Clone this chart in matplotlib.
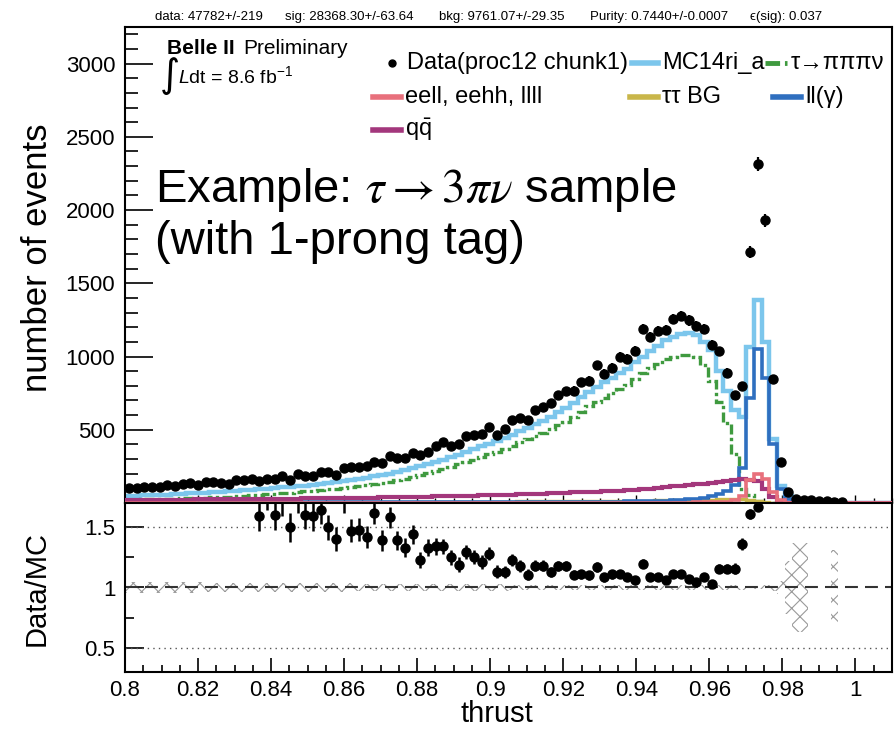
import numpy as np
import matplotlib.pyplot as plt
from matplotlib.lines import Line2D
from matplotlib.ticker import MultipleLocator, FuncFormatter

plt.rcParams['font.family'] = ['Liberation Sans', 'DejaVu Sans']
plt.rcParams['mathtext.fontset'] = 'custom'
plt.rcParams['mathtext.rm'] = 'Liberation Sans'
plt.rcParams['mathtext.it'] = 'Liberation Sans:italic'
plt.rcParams['hatch.linewidth'] = 0.8

# binning of the thrust histograms
x_lo, x_hi, n_bins = 0.8, 1.01, 100

# data counts per bin
data = [100, 100, 107, 111, 107, 124, 118, 127, 134, 122,
        141, 141, 136, 129, 156, 156, 163, 152, 163, 161,
        186, 156, 195, 186, 182, 213, 213, 190, 236, 243,
        243, 254, 281, 274, 322, 304, 304, 340, 331, 345,
        390, 417, 390, 406, 458, 467, 471, 519, 467, 508,
        566, 578, 566, 634, 657, 682, 739, 764, 768, 823,
        836, 940, 884, 925, 998, 984, 1038, 1190, 1133, 1172,
        1183, 1256, 1278, 1247, 1210, 1190, 1081, 1036, 889, 734,
        798, 1712, 2317, 1931, 848, 277, 73, 27, 22, 18,
        15, 12, 10, 7, 0, 0, 0, 0, 0, 0]

# MC14ri_a total
mc_total = [48, 50, 52, 54, 56, 58, 61, 63, 66, 68,
            71, 74, 77, 80, 83, 86, 89, 93, 96, 100,
            106, 110, 114, 118, 122, 128, 136, 142, 148, 158,
            166, 174, 182, 190, 200, 212, 224, 236, 250, 264,
            280, 296, 312, 330, 348, 368, 386, 404, 422, 444,
            466, 490, 512, 536, 562, 590, 618, 648, 684, 722,
            760, 795, 825, 855, 885, 915, 960, 1000, 1040, 1075,
            1110, 1135, 1155, 1160, 1150, 1100, 1045, 900, 765, 635,
            590, 1063, 1387, 1097, 435, 118, 50, 15, 8, 4,
            0, 0, 3, 0, 0, 0, 0, 0, 0, 0]

# signal tau -> pi pi pi nu
sig_3pi = [22, 23, 24, 25, 26, 28, 30, 31, 33, 35,
           37, 39, 41, 44, 47, 50, 53, 56, 59, 63,
           67, 71, 75, 79, 83, 88, 94, 99, 104, 111,
           116, 122, 129, 136, 145, 155, 166, 177, 190, 203,
           218, 232, 247, 263, 279, 297, 314, 332, 350, 371,
           392, 414, 434, 456, 480, 504, 530, 556, 588, 624,
           660, 693, 720, 748, 778, 808, 848, 885, 922, 952,
           980, 1000, 1012, 1012, 995, 945, 835, 690, 545, 335,
           95, 55, 12, 3, 0, 0, 0, 0, 0, 0,
           0, 0, 0, 0, 0, 0, 0, 0, 0, 0]

eell = [0] * 70 + [2, 2, 3, 3, 4, 5, 6, 8, 10, 20,
                   45, 160, 195, 165, 75, 20, 3, 0, 0, 0,
                   0, 0, 0, 0, 0, 0, 0, 0, 0, 0]

tautau_bg = [2, 2, 2, 2, 3, 3, 3, 3, 3, 3,
             3, 3, 4, 4, 4, 4, 4, 4, 4, 4,
             4, 5, 5, 5, 5, 5, 5, 5, 5, 5,
             5, 6, 6, 6, 6, 6, 7, 7, 7, 7,
             8, 8, 8, 8, 9, 9, 9, 10, 10, 10,
             10, 11, 11, 11, 11, 12, 12, 12, 12, 12,
             13, 13, 14, 14, 15, 15, 16, 16, 17, 18,
             18, 19, 20, 20, 21, 22, 23, 24, 24, 25,
             25, 20, 15, 8, 3, 1, 0, 0, 0, 0,
             0, 0, 0, 0, 0, 0, 0, 0, 0, 0]

llgamma = [3, 3, 3, 3, 3, 3, 3, 3, 3, 3,
           3, 3, 3, 3, 3, 3, 3, 3, 3, 3,
           4, 4, 4, 4, 4, 4, 4, 4, 4, 4,
           4, 4, 4, 4, 4, 5, 5, 5, 5, 5,
           5, 5, 5, 5, 5, 5, 5, 5, 5, 5,
           6, 6, 6, 7, 7, 7, 8, 8, 8, 9,
           9, 9, 10, 10, 10, 11, 11, 11, 12, 12,
           15, 18, 22, 26, 30, 35, 45, 60, 85, 125,
           240, 720, 1050, 855, 400, 95, 25, 8, 3, 1,
           0, 0, 0, 0, 0, 0, 0, 0, 0, 0]

qqbar = [20, 20, 21, 21, 22, 22, 22, 23, 23, 24,
         24, 25, 25, 26, 26, 27, 27, 28, 28, 29,
         29, 30, 30, 31, 31, 32, 32, 33, 34, 34,
         35, 36, 37, 38, 39, 40, 41, 42, 43, 44,
         45, 46, 47, 48, 49, 51, 52, 53, 55, 56,
         58, 59, 61, 62, 64, 66, 68, 70, 72, 74,
         76, 78, 80, 82, 84, 87, 90, 94, 98, 103,
         108, 113, 118, 123, 128, 133, 138, 143, 150, 157,
         163, 160, 150, 95, 40, 10, 0, 0, 0, 0,
         0, 0, 0, 0, 0, 0, 0, 0, 0, 0]

# Data/MC ratio per bin (nan: no entry)
nan = float('nan')
ratio = [2.08, 2.00, 2.06, 2.05, 1.91, 2.14, 1.93, 2.02, 2.03, 1.90,
         1.99, 1.91, 1.92, 1.90, 1.98, 1.95, 1.92, 1.595, 1.78, 1.60,
         1.72, 1.50, 1.74, 1.60, 1.59, 1.64, 1.50, 1.40, 1.73, 1.47,
         1.48, 1.42, 1.62, 1.39, 1.58, 1.39, 1.33, 1.44, 1.23, 1.33,
         1.34, 1.34, 1.25, 1.19, 1.295, 1.25, 1.21, 1.28, 1.13, 1.13,
         1.226, 1.18, 1.107, 1.18, 1.18, 1.13, 1.18, 1.18, 1.107, 1.11,
         1.10, 1.17, 1.085, 1.11, 1.11, 1.088, 1.058, 1.198, 1.088, 1.088,
         1.06, 1.11, 1.11, 1.074, 1.047, 1.088, 1.03, 1.157, 1.157, 1.157,
         1.36, 1.61, 1.67, 1.76, 1.95, 2.35, nan, nan, nan, nan,
         nan, nan, nan, nan, nan, nan, nan, nan, nan, nan]

# relative MC stat. uncertainty (hatched band in the ratio)
mc_relerr = [0.045] * 10 + [0.04] * 10 + [0.035] * 10 + [0.03] * 10 + \
            [0.025] * 10 + [0.02] * 10 + [0.018] * 20 + \
            [0.02, 0.015, 0.015, 0.02, 0.03, 0.05, 0.22, 0.37, 0.37, nan,
             nan, nan, 0.31, nan, nan, nan, nan, nan, nan, nan]

summary = ['data: 47782+/-219', 'sig: 28368.30+/-63.64', 'bkg: 9761.07+/-29.35',
           'Purity: 0.7440+/-0.0007', '\u03f5(sig): 0.037']

c_mc = '#7cc6ec'
c_sig = '#3f9a3f'
c_eell = '#e8707c'
c_tt = '#c9b64a'
c_ll = '#2f6fbf'
c_qq = '#a3377c'

W, H = 894, 731
def fx(x):
    return x / W
def fy(y):
    return 1 - y / H

edges = np.linspace(x_lo, x_hi, n_bins + 1)
centers = 0.5 * (edges[1:] + edges[:-1])
bw = edges[1] - edges[0]

fig = plt.figure(figsize=(8.94, 7.31), dpi=100)
ax = fig.add_axes([fx(125), fy(503), 767 / W, 476 / H])
axr = fig.add_axes([fx(125), fy(672), 767 / W, 169 / H])

# ---- main panel
ax.stairs(mc_total, edges, baseline=None, color=c_mc, lw=3.2, zorder=2)
ax.stairs(sig_3pi, edges, baseline=None, color=c_sig, lw=2.4, ls=(0, (3, 1, 1, 1)), zorder=3)
ax.stairs(tautau_bg, edges, baseline=None, color=c_tt, lw=2.4, zorder=3)
ax.stairs(llgamma, edges, baseline=None, color=c_ll, lw=2.6, zorder=3)
ax.stairs(qqbar, edges, baseline=None, color=c_qq, lw=3, zorder=4)
ax.stairs(eell, edges, baseline=None, color=c_eell, lw=2.6, zorder=4)

d = np.array(data, dtype=float)
has = d > 0
ax.errorbar(centers[has], d[has], yerr=np.sqrt(d[has]), fmt='o', ms=6.5, color='k',
            elinewidth=1.6, capsize=0, zorder=6)

ax.set_xlim(x_lo, x_hi)
ax.set_ylim(0, 3250)
ax.yaxis.set_major_locator(MultipleLocator(500))
ax.yaxis.set_minor_locator(MultipleLocator(100))
ax.xaxis.set_major_locator(MultipleLocator(0.02))
ax.xaxis.set_minor_locator(MultipleLocator(0.005))
ax.yaxis.set_major_formatter(FuncFormatter(lambda v, p: '' if abs(v) < 1e-9 else f'{v:g}'))
ax.tick_params(axis='y', which='major', direction='in', length=20, width=1.2, labelsize=16, pad=7)
ax.tick_params(axis='y', which='minor', direction='in', length=9.5, width=1.2)
ax.tick_params(axis='x', which='major', direction='in', length=6, width=1.0, labelbottom=False)
ax.tick_params(axis='x', which='minor', direction='in', length=3.5, width=1.0)
for s in ax.spines.values():
    s.set_linewidth(1.5)

# ---- ratio panel
r = np.array(ratio, dtype=float)
rerr = r / np.sqrt(np.where(has, d, np.nan))
band = np.array(mc_relerr, dtype=float)
okb = ~np.isnan(band)
axr.bar(centers[okb], 2 * band[okb], bottom=1 - band[okb], width=bw, facecolor='none',
        edgecolor='#9a9a9a', hatch='xx', linewidth=0, zorder=1)
axr.axhline(1.0, color='#333333', lw=1.5, dashes=(6.2, 3.4), zorder=2)
axr.axhline(1.5, color='#555555', lw=1.0, ls=(0, (1, 3)), zorder=2)
axr.axhline(0.5, color='#555555', lw=1.0, ls=(0, (1, 3)), zorder=2)
okr = ~np.isnan(r)
axr.errorbar(centers[okr], r[okr], yerr=rerr[okr], fmt='none', ecolor='k',
             elinewidth=1.8, capsize=0, zorder=4)
inside = okr & (r < 1.7)
axr.plot(centers[inside], r[inside], 'o', color='k', ms=6.5, zorder=5)

axr.set_xlim(x_lo, x_hi)
axr.set_ylim(0.3, 1.7)
axr.yaxis.set_major_locator(MultipleLocator(0.5))
axr.yaxis.set_minor_locator(MultipleLocator(0.25))
axr.xaxis.set_major_locator(MultipleLocator(0.02))
axr.xaxis.set_minor_locator(MultipleLocator(0.005))
fmt = FuncFormatter(lambda v, p: f'{v:g}')
axr.xaxis.set_major_formatter(fmt)
axr.yaxis.set_major_formatter(fmt)
axr.tick_params(axis='y', which='major', direction='in', length=13.5, width=1.2, labelsize=16, pad=7)
axr.tick_params(axis='y', which='minor', direction='in', length=6.5, width=1.2)
axr.tick_params(axis='x', which='major', direction='in', length=10, width=1.2, labelsize=16, pad=6)
axr.tick_params(axis='x', which='minor', direction='in', length=5, width=1.2)
for s in axr.spines.values():
    s.set_linewidth(1.5)

# ---- axis titles
fig.text(fx(38), fy(258), 'number of events', rotation=90, ha='center', va='center', fontsize=25)
fig.text(fx(37), fy(588), 'Data/MC', rotation=90, ha='center', va='center', fontsize=21)
fig.text(fx(497), fy(722), 'thrust', ha='center', va='baseline', fontsize=21)

# ---- summary line on top
for txt, x0 in zip(summary, [155, 285, 439, 590, 750]):
    fig.text(fx(x0), fy(17), txt, fontsize=9.5, va='center')

# ---- Belle II label
fig.text(fx(167), fy(48), 'Belle II', fontsize=15, fontweight='bold', va='center')
fig.text(fx(243), fy(48), 'Preliminary', fontsize=15, va='center')
fig.text(fx(160), fy(76), '\u222b', fontsize=28, va='center', family='DejaVu Sans')
fig.text(fx(178), fy(76), '$\\mathit{L}$dt = 8.6 fb$^{\\mathregular{-1}}$', fontsize=14, va='center')

# ---- legend
def key(x0, y0, label, length=28, **kw):
    fig.add_artist(Line2D([fx(x0), fx(x0 + length)], [fy(y0), fy(y0)], transform=fig.transFigure, **kw))
    fig.text(fx(x0 + length + 4), fy(y0), label, fontsize=17, va='center')

fig.add_artist(Line2D([fx(392)], [fy(63)], marker='o', ms=5, color='k', transform=fig.transFigure))
fig.text(fx(407), fy(63), 'Data(proc12 chunk1)', fontsize=17, va='center')
key(632, 63, 'MC14ri_a', length=26, color=c_mc, lw=4)
key(765, 63, '\u03c4\u2192\u03c0\u03c0\u03c0\u03bd', length=22, color=c_sig, lw=3.5, ls=(0, (3, 1, 1, 1)))
key(373, 97, 'eell, eehh, llll', color=c_eell, lw=4)
key(630, 97, '\u03c4\u03c4 BG', color=c_tt, lw=4)
key(773, 97, 'll(\u03b3)', color=c_ll, lw=4)
key(373, 130, 'q$\\bar{\\mathregular{q}}$', color=c_qq, lw=4)

# ---- annotation
fig.text(fx(155), fy(190), 'Example: $\\tau \\rightarrow 3\\pi\\nu$ sample', fontsize=34,
         va='center', math_fontfamily='stix')
fig.text(fx(155), fy(242), '(with 1-prong tag)', fontsize=34, va='center')

fig.savefig('out.png', dpi=100)
